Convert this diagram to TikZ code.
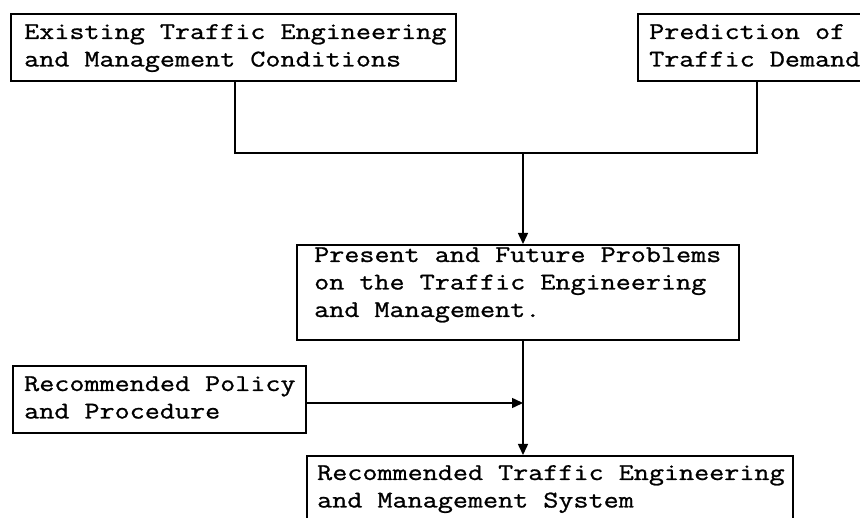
\documentclass[tikz,border=0pt]{standalone}
\usepackage{fontspec}
\newfontfamily\tw{Latin Modern Mono}[FakeStretch=1.22, FakeBold=1]
\usetikzlibrary{arrows.meta}
\newcommand\boxlines[1]{\begin{tabular}[t]{@{}l@{}}#1\end{tabular}}
\begin{document}
\begin{tikzpicture}[x=1pt,y=-1pt,
  box/.style={draw, line width=2.2pt, inner sep=0pt, anchor=north west},
  txt/.style={inner sep=0pt, anchor=base west, font=\tw\fontsize{24}{27.5}\selectfont},
  conn/.style={line width=1.5pt},
  arr/.style={conn, -{Triangle[length=11pt,width=10pt]}}]
\useasboundingbox (0,0) rectangle (860,518);
\fill[white] (0,0) rectangle (860,518);
% boxes
\node[box, minimum width=445pt, minimum height=67pt] (b1) at (10,13) {};
\node[box, minimum width=260pt, minimum height=67pt] (b2) at (637,13) {};
\node[box, minimum width=442pt, minimum height=95pt] (b3) at (296,244) {};
\node[box, minimum width=293pt, minimum height=67pt] (b4) at (12,365) {};
\node[box, minimum width=486pt, minimum height=67pt] (b5) at (306,455) {};
% texts
\node[txt] (t1) at (24,39) {\boxlines{Existing Traffic Engineering\\and Management Conditions}};
\node[txt] (t2) at (649,39) {\boxlines{Prediction of\\Traffic Demand}};
\node[txt] (t3) at (314,262) {\boxlines{Present and Future Problems\\on the Traffic Engineering\\and Management.}};
\node[txt] (t4) at (24,391) {\boxlines{Recommended Policy\\and Procedure}};
\node[txt] (t5) at (317,480) {\boxlines{Recommended Traffic Engineering\\and Management System}};
% connectors
\coordinate (h1) at (235,153);
\coordinate (h2) at (757,153);
\coordinate (j1) at (523,153);
\coordinate (j2) at (523,403);
\draw[conn] (b1.south -| h1) -- (h1) -- (h2) -- (b2.south -| h2);
\draw[arr] (j1) -- (b3.north -| j1);
\draw[arr] (b3.south -| j1) -- (b5.north -| j1);
\draw[arr] (b4.east |- j2) -- (j2);
\end{tikzpicture}
\end{document}
